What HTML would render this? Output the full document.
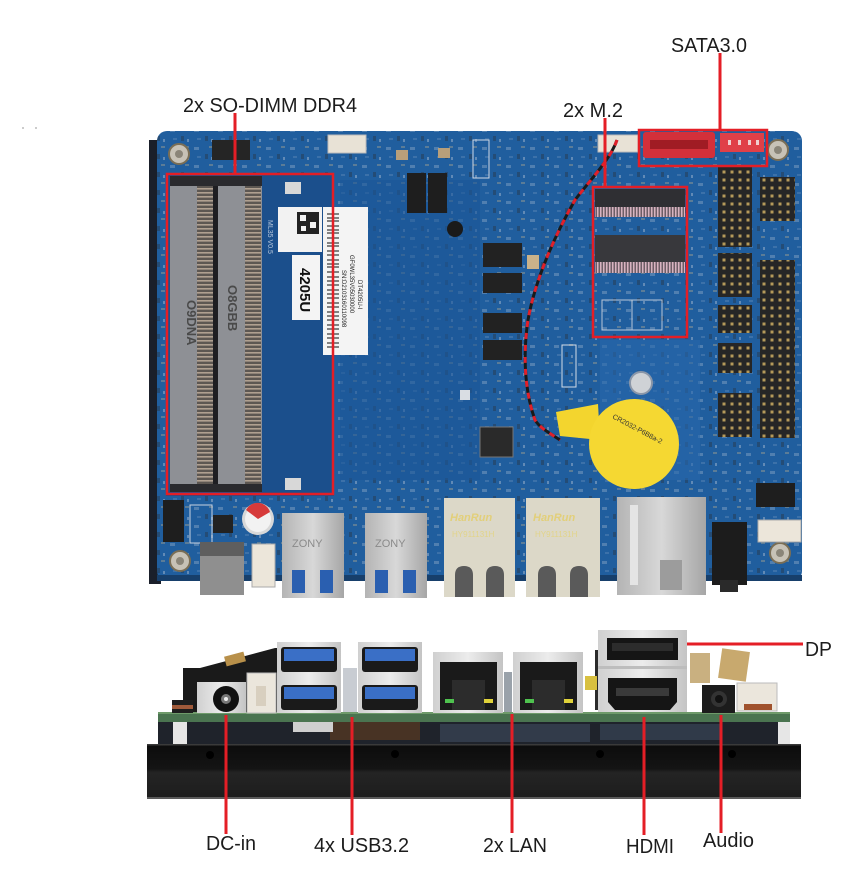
<!DOCTYPE html>
<html><head><meta charset="utf-8"><style>
html,body{margin:0;padding:0;background:#fff;width:848px;height:884px;overflow:hidden}
svg{display:block}
text{font-family:"Liberation Sans",Arial,sans-serif;}
</style></head><body>
<svg width="848" height="884" viewBox="0 0 848 884" xmlns="http://www.w3.org/2000/svg">
<defs>
<pattern id="comp" width="24" height="18" patternUnits="userSpaceOnUse">
 <rect x="2" y="3" width="5" height="3" fill="#a9bdd2"/>
 <rect x="13" y="10" width="3" height="5" fill="#2b2b2b"/>
 <rect x="17" y="2" width="4" height="2" fill="#c9b48a"/>
 <rect x="5" y="12" width="4" height="2" fill="#6f93bd"/>
 <rect x="19" y="13" width="2" height="3" fill="#d9dde3"/>
</pattern>
<pattern id="pins" width="3" height="4" patternUnits="userSpaceOnUse">
 <rect width="3" height="4" fill="#5d5752"/>
 <rect x="0" y="0" width="3" height="1.6" fill="#b0a090"/>
</pattern>
<pattern id="hdr" width="8" height="8" patternUnits="userSpaceOnUse">
 <rect width="8" height="8" fill="#262626"/>
 <rect x="2.5" y="2.5" width="3" height="3" fill="#b59a5a"/>
</pattern>
<pattern id="m2pins" width="3" height="6" patternUnits="userSpaceOnUse">
 <rect width="3" height="6" fill="#6d5e66"/>
 <rect x="0" y="0" width="1.5" height="6" fill="#d7b3c0"/>
</pattern>
<linearGradient id="hs" x1="0" y1="0" x2="0" y2="1">
 <stop offset="0" stop-color="#0c0c0c"/><stop offset="0.45" stop-color="#141414"/><stop offset="0.52" stop-color="#242424"/><stop offset="1" stop-color="#1d1d1d"/>
</linearGradient>
<linearGradient id="silver" x1="0" y1="0" x2="1" y2="0">
 <stop offset="0" stop-color="#b4b4b4"/><stop offset="0.5" stop-color="#d8d8d8"/><stop offset="1" stop-color="#a6a6a6"/>
</linearGradient>
<linearGradient id="silverL" x1="0" y1="0" x2="1" y2="0">
 <stop offset="0" stop-color="#d0d0d0"/><stop offset="0.5" stop-color="#ececec"/><stop offset="1" stop-color="#c4c4c4"/>
</linearGradient>
</defs>

<rect x="22" y="127" width="2" height="2" fill="#ccc"/><rect x="35" y="127" width="2" height="2" fill="#ccc"/>

<!-- ================= TOP VIEW BOARD ================= -->
<rect x="149" y="140" width="12" height="444" fill="#1a1f2a"/>
<rect x="157" y="131" width="645" height="450" rx="10" fill="#205e9e"/>
<rect x="157" y="131" width="645" height="450" rx="10" fill="url(#comp)" opacity="0.35"/>
<rect x="340" y="180" width="140" height="300" fill="#1d5797" opacity="0.6"/>
<rect x="600" y="340" width="100" height="140" fill="#2868ab" opacity="0.6"/>
<rect x="157" y="575" width="645" height="6" fill="#173f6b"/>

<g fill="#c7c2b6" stroke="#7a6e55" stroke-width="2">
<circle cx="179" cy="154" r="10"/><circle cx="778" cy="150" r="10"/>
<circle cx="180" cy="561" r="10"/><circle cx="780" cy="553" r="10"/>
</g>
<g fill="#8a8578"><circle cx="179" cy="154" r="4"/><circle cx="778" cy="150" r="4"/><circle cx="180" cy="561" r="4"/><circle cx="780" cy="553" r="4"/></g>
<circle cx="641" cy="383" r="11" fill="#cfd2d6" stroke="#8a96a8" stroke-width="2"/>

<!-- SO-DIMM slots -->
<rect x="166" y="174" width="168" height="322" fill="#1b4f8c"/>
<rect x="170" y="178" width="44" height="314" fill="#8e9095"/>
<rect x="218" y="178" width="44" height="314" fill="#8e9095"/>
<rect x="197" y="186" width="16" height="298" fill="url(#pins)"/>
<rect x="245" y="186" width="16" height="298" fill="url(#pins)"/>
<rect x="213" y="178" width="5" height="314" fill="#1e1e22"/>
<rect x="170" y="176" width="92" height="10" fill="#2a2a2e"/>
<rect x="170" y="484" width="92" height="8" fill="#2a2a2e"/>
<text transform="translate(187,300) rotate(90)" font-size="13" fill="#4a4a4a" font-weight="bold">O9DNA</text>
<text transform="translate(228,285) rotate(90)" font-size="13" fill="#4a4a4a" font-weight="bold">O8GBB</text>
<rect x="285" y="182" width="16" height="12" fill="#d8d8d8"/>
<rect x="285" y="478" width="16" height="12" fill="#d8d8d8"/>
<text transform="translate(268,220) rotate(90)" font-size="7" fill="#b8c8dc">ML35 V0.5</text>

<!-- stickers -->
<rect x="278" y="207" width="44" height="45" fill="#f2f2f2"/>
<rect x="297" y="212" width="22" height="22" fill="#222"/>
<rect x="300" y="215" width="6" height="6" fill="#f2f2f2"/><rect x="310" y="222" width="6" height="6" fill="#f2f2f2"/><rect x="301" y="226" width="5" height="5" fill="#f2f2f2"/>
<rect x="292" y="255" width="28" height="65" fill="#f4f4f4"/>
<text transform="translate(300,268) rotate(90)" font-size="15" font-weight="bold" fill="#111">4205U</text>
<rect x="323" y="207" width="45" height="148" fill="#f4f4f4"/>
<g stroke="#111" stroke-width="1">
<line x1="327" y1="214" x2="339" y2="214"/><line x1="327" y1="218" x2="339" y2="218"/><line x1="327" y1="221" x2="339" y2="221"/><line x1="327" y1="226" x2="339" y2="226"/><line x1="327" y1="230" x2="339" y2="230"/><line x1="327" y1="233" x2="339" y2="233"/><line x1="327" y1="238" x2="339" y2="238"/><line x1="327" y1="243" x2="339" y2="243"/><line x1="327" y1="246" x2="339" y2="246"/><line x1="327" y1="251" x2="339" y2="251"/><line x1="327" y1="255" x2="339" y2="255"/><line x1="327" y1="260" x2="339" y2="260"/><line x1="327" y1="264" x2="339" y2="264"/><line x1="327" y1="267" x2="339" y2="267"/><line x1="327" y1="272" x2="339" y2="272"/><line x1="327" y1="277" x2="339" y2="277"/><line x1="327" y1="281" x2="339" y2="281"/><line x1="327" y1="285" x2="339" y2="285"/><line x1="327" y1="290" x2="339" y2="290"/><line x1="327" y1="294" x2="339" y2="294"/><line x1="327" y1="298" x2="339" y2="298"/><line x1="327" y1="303" x2="339" y2="303"/><line x1="327" y1="307" x2="339" y2="307"/><line x1="327" y1="312" x2="339" y2="312"/><line x1="327" y1="316" x2="339" y2="316"/><line x1="327" y1="320" x2="339" y2="320"/><line x1="327" y1="325" x2="339" y2="325"/><line x1="327" y1="329" x2="339" y2="329"/><line x1="327" y1="334" x2="339" y2="334"/><line x1="327" y1="338" x2="339" y2="338"/><line x1="327" y1="343" x2="339" y2="343"/><line x1="327" y1="347" x2="339" y2="347"/>
</g>
<text transform="translate(342,270) rotate(90)" font-size="6" fill="#222">SN:D2103160110098</text>
<text transform="translate(350,255) rotate(90)" font-size="6" fill="#222">GF0WL35V05030000</text>
<text transform="translate(358,280) rotate(90)" font-size="6" fill="#222">DT4205U-I</text>

<!-- top area components -->
<rect x="212" y="140" width="38" height="20" fill="#252525"/>
<rect x="328" y="135" width="38" height="18" fill="#e8e2d6" stroke="#bbb" stroke-width="1"/>
<rect x="598" y="135" width="40" height="17" fill="#e8e2d6" stroke="#bbb" stroke-width="1"/>
<rect x="473" y="140" width="16" height="38" fill="none" stroke="#d0d8e4" stroke-width="1"/>
<rect x="407" y="173" width="19" height="40" fill="#1e1e1e"/>
<rect x="428" y="173" width="19" height="40" fill="#1e1e1e"/>
<rect x="396" y="150" width="12" height="10" fill="#b89f7a"/>
<rect x="438" y="148" width="12" height="10" fill="#b89f7a"/>
<circle cx="455" cy="229" r="8" fill="#1a1a1a"/>
<rect x="483" y="243" width="39" height="24" fill="#222"/>
<rect x="483" y="273" width="39" height="20" fill="#222"/>
<rect x="483" y="313" width="39" height="20" fill="#222"/>
<rect x="483" y="340" width="39" height="20" fill="#222"/>
<rect x="480" y="427" width="33" height="30" fill="#2a2a2a" stroke="#777" stroke-width="1"/>
<rect x="527" y="255" width="12" height="14" fill="#c9b28a"/>
<rect x="562" y="345" width="14" height="42" fill="none" stroke="#d4dce6" stroke-width="1"/>
<rect x="460" y="390" width="10" height="10" fill="#d9dde3"/>

<!-- M.2 slots -->
<rect x="595" y="189" width="90" height="19" fill="#2f2f33"/>
<rect x="595" y="207" width="90" height="10" fill="url(#m2pins)"/>
<rect x="595" y="235" width="90" height="27" fill="#38383c"/>
<rect x="595" y="262" width="90" height="11" fill="url(#m2pins)"/>
<rect x="602" y="300" width="60" height="30" fill="none" stroke="#b8c6d8" stroke-width="1"/>
<line x1="632" y1="300" x2="632" y2="330" stroke="#b8c6d8" stroke-width="1"/>

<!-- SATA -->
<rect x="643" y="132" width="72" height="26" rx="3" fill="#d3303a"/>
<rect x="650" y="140" width="58" height="9" fill="#a01c24"/>
<rect x="720" y="133" width="44" height="19" fill="#e04048"/>
<g fill="#f0d0d0"><rect x="728" y="140" width="3" height="5"/><rect x="738" y="140" width="3" height="5"/><rect x="748" y="140" width="3" height="5"/><rect x="756" y="140" width="3" height="5"/></g>

<!-- right headers -->
<rect x="718" y="167" width="34" height="80" fill="url(#hdr)"/>
<rect x="718" y="253" width="34" height="44" fill="url(#hdr)"/>
<rect x="718" y="305" width="34" height="28" fill="url(#hdr)"/>
<rect x="718" y="343" width="34" height="30" fill="url(#hdr)"/>
<rect x="718" y="393" width="34" height="44" fill="url(#hdr)"/>
<rect x="760" y="177" width="35" height="44" fill="url(#hdr)"/>
<rect x="760" y="260" width="35" height="178" fill="url(#hdr)"/>
<rect x="756" y="483" width="39" height="24" fill="#1e1e1e"/>
<rect x="758" y="520" width="43" height="22" fill="#ece6da" stroke="#aaa" stroke-width="1"/>

<!-- battery + cable -->
<path d="M556,412 L598,404 L600,440 L560,436 Z" fill="#f3d52e"/>
<circle cx="634" cy="444" r="45" fill="#f5d832"/>
<text transform="translate(612,418) rotate(28)" font-size="7" fill="#333">CR2032-P6B8a-2</text>
<path d="M617,140 C610,160 590,180 575,200 C555,235 535,280 528,320 C522,360 526,395 535,420 C540,428 548,432 560,440" fill="none" stroke="#1a1a1a" stroke-width="3"/>
<path d="M617,140 C610,160 590,180 575,200 C555,235 535,280 528,320 C522,360 526,395 535,420 C540,428 548,432 560,440" fill="none" stroke="#e0202a" stroke-width="3" stroke-dasharray="6 6"/>

<!-- bottom-left -->
<rect x="163" y="500" width="21" height="42" fill="#1e1e1e"/>
<rect x="190" y="505" width="22" height="38" fill="none" stroke="#c8d2e0" stroke-width="1"/>
<rect x="213" y="515" width="20" height="18" fill="#222"/>
<circle cx="258" cy="519" r="16" fill="#d8d8d8"/>
<circle cx="258" cy="519" r="13" fill="#f2f2f2"/>
<path d="M246,510 A13,13 0 0 1 270,512 L258,519 Z" fill="#d63a3a"/>
<rect x="200" y="542" width="44" height="53" fill="#8f8f8f"/>
<rect x="200" y="542" width="44" height="14" fill="#5e5e5e"/>
<rect x="252" y="544" width="23" height="43" fill="#ece6da" stroke="#aaa" stroke-width="1"/>

<!-- USB top -->
<rect x="282" y="513" width="62" height="85" fill="url(#silver)"/>
<rect x="292" y="570" width="13" height="23" fill="#2a5fb0"/><rect x="320" y="570" width="13" height="23" fill="#2a5fb0"/>
<text x="292" y="547" font-size="11" fill="#8a8a8a">ZONY</text>
<rect x="365" y="513" width="62" height="85" fill="url(#silver)"/>
<rect x="375" y="570" width="13" height="23" fill="#2a5fb0"/><rect x="403" y="570" width="13" height="23" fill="#2a5fb0"/>
<text x="375" y="547" font-size="11" fill="#8a8a8a">ZONY</text>
<!-- LAN top -->
<rect x="444" y="498" width="71" height="99" fill="#dcd8c8"/>
<text x="450" y="521" font-size="11" font-style="italic" font-weight="bold" fill="#e2cf7a">HanRun</text>
<text x="452" y="537" font-size="8" fill="#e2d48a">HY911131H</text>
<path d="M455,597 V575 Q455,566 464,566 Q473,566 473,575 V597 Z" fill="#5a5a5a"/>
<path d="M486,597 V575 Q486,566 495,566 Q504,566 504,575 V597 Z" fill="#5a5a5a"/>
<rect x="526" y="498" width="74" height="99" fill="#dcd8c8"/>
<text x="533" y="521" font-size="11" font-style="italic" font-weight="bold" fill="#e2cf7a">HanRun</text>
<text x="535" y="537" font-size="8" fill="#e2d48a">HY911131H</text>
<path d="M538,597 V575 Q538,566 547,566 Q556,566 556,575 V597 Z" fill="#5a5a5a"/>
<path d="M570,597 V575 Q570,566 579,566 Q588,566 588,575 V597 Z" fill="#5a5a5a"/>
<!-- HDMI/DP top -->
<rect x="617" y="497" width="89" height="98" fill="url(#silver)"/>
<rect x="630" y="505" width="8" height="80" fill="#e4e4e4"/>
<rect x="660" y="560" width="22" height="30" fill="#9c9c9c"/>
<!-- audio top -->
<rect x="712" y="522" width="35" height="63" fill="#1c1c1c"/>
<rect x="720" y="580" width="18" height="12" fill="#2a2a2a"/>

<!-- ================= SIDE VIEW ================= -->
<path d="M183,668 L200,668 L275,648 L282,648 L282,717 L183,717 Z" fill="#1a1a1a"/>
<rect x="225" y="654" width="20" height="10" fill="#b8904a" transform="rotate(-15 235 659)"/>
<rect x="595" y="650" width="10" height="60" fill="#2a2a2a"/>
<rect x="158" y="720" width="632" height="26" fill="#1f232b"/>
<rect x="330" y="722" width="90" height="18" fill="#5a3a22" opacity="0.7"/>
<rect x="440" y="724" width="150" height="18" fill="#3a4658" opacity="0.7"/>
<rect x="600" y="724" width="120" height="16" fill="#3c4a5e" opacity="0.6"/>
<rect x="173" y="722" width="14" height="22" fill="#e6e6e6"/>
<rect x="778" y="722" width="12" height="22" fill="#e6e6e6"/>
<rect x="293" y="722" width="40" height="10" fill="#cfcfcf"/>
<rect x="147" y="744" width="654" height="55" fill="url(#hs)"/>
<rect x="147" y="744" width="654" height="1.5" fill="#3a3a3a"/>
<rect x="147" y="797" width="654" height="2" fill="#5a5a5a"/>
<circle cx="210" cy="755" r="4" fill="#000"/>
<circle cx="395" cy="754" r="4" fill="#000"/>
<circle cx="600" cy="754" r="4" fill="#000"/>
<circle cx="732" cy="754" r="4" fill="#000"/>
<rect x="158" y="712" width="632" height="10" fill="#4a7450"/>
<rect x="158" y="712" width="632" height="2" fill="#6e9a6a"/>
<rect x="172" y="700" width="21" height="13" fill="#1e1e1e"/>
<rect x="172" y="705" width="21" height="4" fill="#a05a3a"/>
<rect x="197" y="682" width="49" height="31" fill="url(#silverL)"/>
<circle cx="226" cy="699" r="13" fill="#111"/>
<circle cx="226" cy="699" r="5" fill="#777"/>
<circle cx="226" cy="699" r="2" fill="#eee"/>
<rect x="247" y="673" width="29" height="40" fill="#ebe6dc" stroke="#bbb" stroke-width="1"/>
<rect x="256" y="686" width="10" height="20" fill="#d8cfbf"/>
<rect x="277" y="642" width="64" height="71" fill="url(#silverL)"/>
<rect x="281" y="647" width="56" height="25" rx="3" fill="#1a1a1a"/>
<rect x="284" y="649" width="50" height="12" fill="#3a6fc6"/>
<rect x="281" y="685" width="56" height="25" rx="3" fill="#1a1a1a"/>
<rect x="284" y="687" width="50" height="12" fill="#3a6fc6"/>
<rect x="358" y="642" width="64" height="71" fill="url(#silverL)"/>
<rect x="362" y="647" width="56" height="25" rx="3" fill="#1a1a1a"/>
<rect x="365" y="649" width="50" height="12" fill="#3a6fc6"/>
<rect x="362" y="685" width="56" height="25" rx="3" fill="#1a1a1a"/>
<rect x="365" y="687" width="50" height="12" fill="#3a6fc6"/>
<rect x="343" y="668" width="14" height="44" fill="#c8ccd2"/>
<rect x="433" y="652" width="70" height="61" fill="url(#silverL)"/>
<rect x="440" y="662" width="57" height="48" fill="#1a1a1a"/>
<rect x="452" y="680" width="33" height="30" fill="#2c2c2c"/>
<rect x="445" y="699" width="9" height="4" fill="#4fc24f"/>
<rect x="484" y="699" width="9" height="4" fill="#e0d23a"/>
<rect x="513" y="652" width="70" height="61" fill="url(#silverL)"/>
<rect x="520" y="662" width="57" height="48" fill="#1a1a1a"/>
<rect x="532" y="680" width="33" height="30" fill="#2c2c2c"/>
<rect x="525" y="699" width="9" height="4" fill="#4fc24f"/>
<rect x="564" y="699" width="9" height="4" fill="#e0d23a"/>
<rect x="504" y="672" width="8" height="40" fill="#9aa2aa"/>
<rect x="585" y="676" width="12" height="14" fill="#d8c040"/>
<rect x="598" y="630" width="89" height="82" fill="url(#silverL)"/>
<rect x="607" y="638" width="71" height="22" fill="#151515"/>
<rect x="612" y="643" width="61" height="8" fill="#2c2c2c"/>
<rect x="598" y="666" width="89" height="3" fill="#bdbdbd"/>
<path d="M608,678 L677,678 L677,702 L670,710 L615,710 L608,702 Z" fill="#151515"/>
<rect x="616" y="688" width="53" height="8" fill="#3a3a3a"/>
<rect x="690" y="653" width="20" height="30" fill="#c9b080"/>
<rect x="720" y="650" width="28" height="30" fill="#c8a96e" transform="rotate(8 734 665)"/>
<rect x="702" y="685" width="33" height="28" fill="#1c1c1c"/>
<circle cx="719" cy="699" r="8" fill="#333"/>
<circle cx="719" cy="699" r="4" fill="#111"/>
<rect x="737" y="683" width="40" height="28" fill="#ebe6dc" stroke="#bbb" stroke-width="1"/>
<rect x="744" y="704" width="28" height="6" fill="#a0522d"/>

<!-- ================= ANNOTATIONS ================= -->
<g fill="none" stroke="#e41e26">
<rect x="167" y="174" width="166" height="320" stroke-width="2.5"/>
<rect x="593" y="187" width="94" height="150" stroke-width="2.5"/>
<rect x="639" y="130" width="128" height="36" stroke-width="2.5"/>
</g>
<g stroke="#e41e26" stroke-width="3">
<line x1="235" y1="113" x2="235" y2="174"/>
<line x1="605" y1="118" x2="605" y2="187"/>
<line x1="720" y1="53" x2="720" y2="130"/>
<line x1="226" y1="715" x2="226" y2="834"/>
<line x1="352" y1="717" x2="352" y2="835"/>
<line x1="512" y1="714" x2="512" y2="833"/>
<line x1="644" y1="717" x2="644" y2="835"/>
<line x1="721" y1="715" x2="721" y2="833"/>
<line x1="687" y1="644" x2="803" y2="644"/>
</g>
<g fill="#1c1c1c" font-size="20">
<text x="183" y="112" textLength="174" lengthAdjust="spacingAndGlyphs">2x SO-DIMM DDR4</text>
<text x="563" y="117" textLength="60" lengthAdjust="spacingAndGlyphs">2x M.2</text>
<text x="671" y="52" textLength="76" lengthAdjust="spacingAndGlyphs">SATA3.0</text>
<text x="206" y="850" textLength="50" lengthAdjust="spacingAndGlyphs">DC-in</text>
<text x="314" y="852" textLength="95" lengthAdjust="spacingAndGlyphs">4x USB3.2</text>
<text x="483" y="852" textLength="64" lengthAdjust="spacingAndGlyphs">2x LAN</text>
<text x="626" y="853" textLength="48" lengthAdjust="spacingAndGlyphs">HDMI</text>
<text x="703" y="847" textLength="51" lengthAdjust="spacingAndGlyphs">Audio</text>
<text x="805" y="656" textLength="27" lengthAdjust="spacingAndGlyphs">DP</text>
</g>
</svg>
</body></html>
